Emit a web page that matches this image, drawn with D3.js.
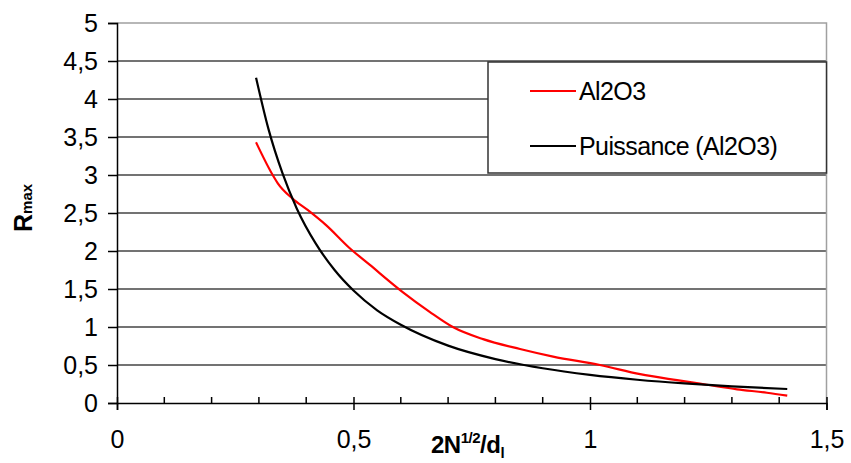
<!DOCTYPE html>
<html>
<head>
<meta charset="utf-8">
<script src="https://cdn.jsdelivr.net/npm/d3@7"></script>
<style>
  html, body { margin: 0; padding: 0; background: #fff; }
  svg { display: block; }
  text { font-family: "Liberation Sans", Arial, sans-serif; }
</style>
</head>
<body>
<svg id="chart" width="851" height="463"></svg>
<script>
// ---- data ----
const redX = [0.294, 0.331, 0.340, 0.371, 0.403, 0.442, 0.4915, 0.534, 0.604, 0.661, 0.710, 0.774, 0.852, 0.922, 1.021, 1.106, 1.184, 1.247, 1.311, 1.374, 1.417];
const redY = [3.43, 2.98, 2.89, 2.69, 2.54, 2.34, 2.04, 1.82, 1.46, 1.20, 1.00, 0.84, 0.71, 0.61, 0.50, 0.38, 0.30, 0.24, 0.18, 0.135, 0.096];
const blackX = [0.294, 0.32, 0.35, 0.38, 0.42, 0.46, 0.5, 0.55, 0.6, 0.7, 0.8, 0.9, 1.0, 1.1, 1.2, 1.3, 1.417];
const blackY = [4.28, 3.61, 3.02, 2.56, 2.10, 1.75, 1.48, 1.22, 1.03, 0.755, 0.578, 0.457, 0.37, 0.306, 0.257, 0.219, 0.184];
const yTicks = [0, 0.5, 1, 1.5, 2, 2.5, 3, 3.5, 4, 4.5, 5];
const xTicks = [0, 0.5, 1, 1.5];
const xMinorTicks = [0.1, 0.2, 0.3, 0.4, 0.6, 0.7, 0.8, 0.9, 1.1, 1.2, 1.3, 1.4];
const seriesNames = ["Al2O3", "Puissance (Al2O3)"];
const seriesColors = ["#ff0000", "#000000"];

const fmt = v => String(v).replace(".", ",");

const svg = d3.select("#chart");
const x = d3.scaleLinear().domain([0, 1.5]).range([117, 826.5]);
const y = d3.scaleLinear().domain([0, 5]).range([403, 23]);

// gridlines
svg.append("g").selectAll("line")
  .data(yTicks.filter(v => v > 0 && v < 5))
  .join("line")
  .attr("x1", x(0)).attr("x2", x(1.5))
  .attr("y1", d => y(d)).attr("y2", d => y(d))
  .attr("stroke", "#444").attr("stroke-width", 1.6);

// plot border top/right (light)
svg.append("path")
  .attr("d", `M${x(0)},${y(5)}H${x(1.5)}V${y(0)}`)
  .attr("fill", "none").attr("stroke", "#a0a0a0").attr("stroke-width", 1.5);

// y axis
const yAxis = d3.axisLeft(y).tickValues(yTicks).tickFormat(fmt).tickSize(9).tickPadding(10);
const gy = svg.append("g").attr("transform", `translate(${x(0)},0)`).call(yAxis);
gy.select(".domain").attr("stroke", "#000").attr("stroke-width", 1.5);
gy.selectAll(".tick line").attr("stroke", "#000").attr("stroke-width", 1.5);
gy.selectAll(".tick text").attr("font-size", 25).attr("fill", "#000")
  .attr("font-family", "Liberation Sans, Arial, sans-serif");

// x axis major
const xAxis = d3.axisBottom(x).tickValues(xTicks).tickFormat(fmt).tickSize(7).tickPadding(20);
const gx = svg.append("g").attr("transform", `translate(0,${y(0)})`).call(xAxis);
gx.select(".domain").attr("stroke", "#000").attr("stroke-width", 1.5);
gx.selectAll(".tick line").attr("stroke", "#000").attr("stroke-width", 1.5).attr("y1", -6);
gx.selectAll(".tick text").attr("font-size", 25).attr("fill", "#000")
  .attr("font-family", "Liberation Sans, Arial, sans-serif");
// x minor ticks (inside)
svg.append("g").selectAll("line").data(xMinorTicks).join("line")
  .attr("x1", d => x(d)).attr("x2", d => x(d))
  .attr("y1", y(0) - 6).attr("y2", y(0))
  .attr("stroke", "#000").attr("stroke-width", 1.5);

// lines
const line = d3.line().x(d => x(d[0])).y(d => y(d[1])).curve(d3.curveMonotoneX);
svg.append("path")
  .datum(redX.map((v, i) => [v, redY[i]]))
  .attr("d", line).attr("fill", "none")
  .attr("stroke", seriesColors[0]).attr("stroke-width", 2.2);
svg.append("path")
  .datum(blackX.map((v, i) => [v, blackY[i]]))
  .attr("d", line).attr("fill", "none")
  .attr("stroke", seriesColors[1]).attr("stroke-width", 2.2);

// legend
const lg = svg.append("g");
lg.append("rect").attr("x", 488).attr("y", 62).attr("width", 826.5 - 488).attr("height", 111)
  .attr("fill", "#fff").attr("stroke", "#333").attr("stroke-width", 1.5);
const legY = [91, 146];
seriesNames.forEach((name, i) => {
  lg.append("line").attr("x1", 530).attr("x2", 576)
    .attr("y1", legY[i]).attr("y2", legY[i])
    .attr("stroke", seriesColors[i]).attr("stroke-width", 2.2);
  lg.append("text").attr("x", 579).attr("y", legY[i])
    .attr("dominant-baseline", "central")
    .attr("font-size", 25).attr("letter-spacing", -0.6).attr("fill", "#000").text(name);
});

// x title
const xt = svg.append("text").attr("x", 431).attr("y", 453)
  .attr("font-weight", "bold").attr("font-size", 24).attr("fill", "#000")
  .attr("letter-spacing", -0.5);
xt.append("tspan").text("2N");
xt.append("tspan").attr("font-size", 15).attr("dy", -10).text("1/2");
xt.append("tspan").attr("font-size", 24).attr("dy", 10).text("/d");
xt.append("tspan").attr("font-size", 15).attr("dy", 5).text("l");

// y title
const yt = svg.append("text").attr("transform", "translate(32,232) rotate(-90)")
  .attr("font-weight", "bold").attr("font-size", 25).attr("fill", "#000");
yt.append("tspan").text("R");
yt.append("tspan").attr("font-size", 15).attr("dy", 0).text("max");
</script>
</body>
</html>
